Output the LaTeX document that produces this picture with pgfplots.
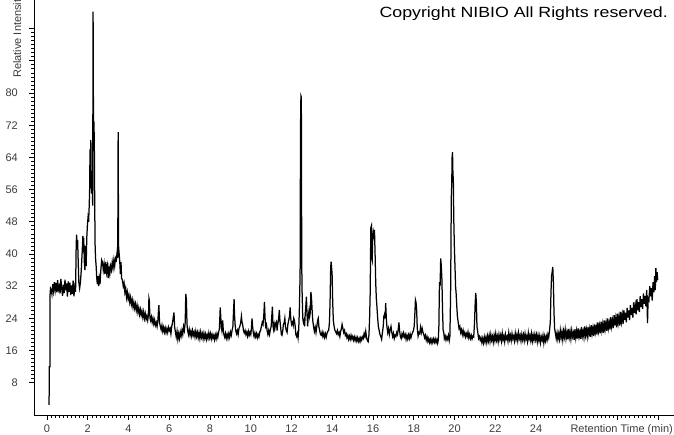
\documentclass[border=0pt]{standalone}
\usepackage{fontspec}
\setmainfont{Liberation Sans}
\usepackage{pgfplots}
\pgfplotsset{compat=1.18}
\definecolor{labelgray}{RGB}{60,60,60}
\begin{document}
\begin{tikzpicture}
\path[use as bounding box] (0,0) rectangle (674pt,434pt);
\begin{axis}[
  at={(34pt,19pt)}, anchor=south west,
  scale only axis, width=640pt, height=415pt,
  xmin=-0.64, xmax=30.77, ymin=0, ymax=103.1,
  axis x line*=bottom, axis y line*=left,
  every outer x axis line/.append style={-},
  every outer y axis line/.append style={-},
  every inner x axis line/.append style={-},
  every inner y axis line/.append style={-},
  axis line style={black, line width=0.8pt},
  tick align=outside,
  major tick length=5pt, minor tick length=2.7pt,
  every tick/.style={black, line width=0.7pt},
  xtick={0,2,...,30},
  xticklabels={0,2,4,6,8,10,12,14,16,18,20,22,24,{},{},{}},
  minor x tick num=9,
  ytick={8,16,...,96},
  yticklabels={8,16,24,32,40,48,56,64,72,80,{},{}},
  minor y tick num=7,
  /pgf/number format/assume math mode=true,
  tick label style={font=\fontsize{11}{12}\selectfont, text=labelgray},
  xticklabel style={anchor=base, inner sep=0pt, yshift=-12pt},
  yticklabel style={anchor=east, inner sep=0pt, xshift=-11pt},
  clip mode=individual,
]
\addplot[black, line width=1.25pt] coordinates {
(0.10,2.5) (0.11,12) (0.14,12) (0.15,30) (0.17,31.5)
(0.20,31.2) (0.24,30.0) (0.28,32.5) (0.32,30.8) (0.36,33.0) (0.40,31.0) (0.44,32.8) (0.48,30.5) (0.52,33.5) (0.56,31.2)
(0.60,32.0) (0.64,30.2) (0.68,33.8) (0.72,31.5) (0.76,29.6) (0.80,32.4) (0.84,30.3) (0.88,33.6) (0.92,31.0) (0.96,32.7)
(1.00,29.4) (1.04,33.2) (1.08,30.6) (1.12,32.9) (1.16,29.8) (1.20,32.2) (1.24,30.1) (1.28,33.4) (1.32,29.5) (1.36,31.8)
(1.40,30.6) (1.43,42) (1.45,44.8) (1.48,41) (1.50,43.5) (1.53,38) (1.56,33) (1.60,31.5) (1.64,33) (1.68,36) (1.72,40)
(1.76,44.5) (1.78,40.5) (1.80,44) (1.83,38) (1.86,36) (1.89,42) (1.92,37) (1.95,44) (1.98,47) (2.01,49) (2.04,48)
(2.07,52) (2.09,56) (2.11,66) (2.13,60) (2.15,68.3) (2.17,57) (2.19,55) (2.21,58) (2.24,52) (2.26,100.2) (2.28,70)
(2.30,72.9) (2.32,68) (2.34,52) (2.36,42) (2.38,39) (2.41,37) (2.44,34) (2.47,32.5) (2.50,34.5) (2.53,32) (2.56,34)
(2.60,32.5) (2.64,36) (2.68,38.5) (2.72,38) (2.76,36) (2.80,37.5) (2.84,35) (2.88,38) (2.92,35.5) (2.96,37) (3.00,34)
(3.04,36.5) (3.08,35) (3.12,37) (3.16,36) (3.20,38) (3.24,36.5) (3.28,38.5) (3.32,37) (3.36,39) (3.40,38.5) (3.44,40.5)
(3.47,39) (3.49,70.3) (3.51,42) (3.54,40) (3.57,38) (3.60,35) (3.63,38) (3.66,34) (3.70,33.5) (3.74,32) (3.78,32.8)
(3.82,30.5) (3.86,31.5) (3.90,29.2) (3.94,30.5) (3.98,28.8) (4.02,29.8) (4.06,28.0) (4.10,29.2) (4.14,27.5) (4.18,28.6)
(4.22,26.8) (4.26,28.0) (4.30,26.5) (4.34,27.6) (4.38,26.0) (4.42,27.2) (4.46,25.5) (4.50,26.6) (4.54,25.0) (4.58,26.2)
(4.62,24.8) (4.66,25.8) (4.70,24.3) (4.74,25.6) (4.78,24.0) (4.82,25.2) (4.86,23.8) (4.90,24.6) (4.94,23.5) (4.98,25.0)
(5.00,29.0) (5.02,28.5) (5.05,24.2) (5.08,23.5) (5.12,24.4) (5.16,23.0) (5.20,24.0) (5.24,22.6) (5.28,23.6) (5.32,22.3)
(5.36,23.0) (5.40,22.0) (5.44,23.5) (5.47,26.0) (5.49,27.3) (5.52,23.0) (5.56,22.0) (5.60,21.2) (5.64,22.3) (5.68,20.8)
(5.72,21.8) (5.76,20.6) (5.80,21.6) (5.84,20.4) (5.88,21.4) (5.92,20.5) (5.96,21.8) (6.00,21.0) (6.04,21.5) (6.08,20.2)
(6.12,22.0) (6.16,23.0) (6.20,24.5) (6.23,25.5) (6.26,22.0) (6.30,20.6) (6.34,19.4) (6.38,20.8) (6.42,18.8) (6.46,20.2)
(6.50,19.0) (6.54,20.6) (6.58,19.6) (6.62,21.0) (6.66,20.0) (6.70,22.0) (6.74,21.0) (6.78,23.0) (6.81,30.1) (6.84,28.5)
(6.87,22.5) (6.90,21.0) (6.94,20.0) (6.98,21.2) (7.02,19.8) (7.06,20.8) (7.10,19.6) (7.14,21.0) (7.18,19.8) (7.22,20.6)
(7.26,19.4) (7.30,20.8) (7.34,19.5) (7.38,20.5) (7.42,19.2) (7.46,20.4) (7.50,19.0) (7.54,20.6) (7.58,19.3) (7.62,20.2)
(7.66,18.9) (7.70,20.3) (7.74,19.1) (7.78,20.1) (7.82,18.8) (7.86,19.9) (7.90,19.0) (7.94,20.4) (7.98,19.2) (8.02,20.2)
(8.06,18.9) (8.10,20.0) (8.14,19.1) (8.18,19.8) (8.22,18.7) (8.26,19.9) (8.30,19.0) (8.34,20.2) (8.38,19.3) (8.42,20.5)
(8.46,21.5) (8.50,26.7) (8.52,25.0) (8.55,22.0) (8.58,21.0) (8.62,23.5) (8.65,21.0) (8.68,20.0) (8.72,19.3) (8.76,20.3)
(8.80,19.1) (8.84,20.0) (8.88,19.0) (8.92,20.2) (8.96,19.3) (9.00,20.6) (9.04,19.8) (9.08,21.0) (9.12,22.0) (9.15,25.5)
(9.18,28.8) (9.20,25.0) (9.23,22.5) (9.26,21.0) (9.30,20.2) (9.34,21.0) (9.38,20.0) (9.42,21.5) (9.46,22.0) (9.50,22.8)
(9.54,24.5) (9.57,23.0) (9.60,22.5) (9.64,21.0) (9.68,20.4) (9.72,21.0) (9.76,20.0) (9.80,20.6) (9.84,19.6) (9.88,20.8)
(9.92,19.8) (9.96,20.6) (10.00,20.0) (10.03,21.5) (10.06,24.0) (10.09,22.0) (10.12,20.5) (10.16,19.5) (10.20,20.4)
(10.24,19.4) (10.28,20.2) (10.32,19.2) (10.36,20.0) (10.40,19.4) (10.44,20.6) (10.48,21.0) (10.52,22.0) (10.56,23.0)
(10.60,22.5) (10.64,25.0) (10.67,28.1) (10.70,24.0) (10.73,22.0) (10.77,22.5) (10.80,21.0) (10.84,20.0) (10.88,21.0)
(10.92,20.0) (10.96,21.2) (11.00,22.0) (11.03,24.5) (11.06,26.9) (11.09,22.0) (11.12,21.2) (11.15,22.5) (11.18,21.5)
(11.22,22.8) (11.26,23.2) (11.29,21.0) (11.32,22.5) (11.36,23.5) (11.40,26.1) (11.43,23.5) (11.47,21.5) (11.50,20.0)
(11.53,19.8) (11.57,21.0) (11.60,22.5) (11.64,23.0) (11.67,24.0) (11.70,22.0) (11.74,21.0) (11.78,20.5) (11.82,22.5)
(11.86,23.5) (11.90,24.5) (11.93,26.7) (11.96,24.0) (12.00,22.5) (12.04,23.0) (12.08,22.2) (12.11,24.0) (12.14,23.5)
(12.18,22.0) (12.21,20.0) (12.25,19.5) (12.29,20.3) (12.32,19.2) (12.35,21.0) (12.38,25.5) (12.42,35.0) (12.44,71.5)
(12.46,79.3) (12.48,79.0) (12.50,37.5) (12.52,30.0) (12.55,24.0) (12.58,23.0) (12.61,23.5) (12.64,22.0) (12.67,25.0)
(12.70,27.0) (12.73,29.4) (12.76,25.0) (12.79,22.0) (12.82,24.5) (12.86,26.0) (12.89,24.5) (12.92,25.5) (12.95,30.6)
(12.98,29.0) (13.01,26.0) (13.04,23.5) (13.08,22.0) (13.12,20.8) (13.16,21.8) (13.20,20.5) (13.24,22.0) (13.28,23.5)
(13.31,24.0) (13.34,22.0) (13.38,21.0) (13.42,20.0) (13.46,19.8) (13.50,20.6) (13.54,19.5) (13.58,20.3) (13.62,19.3)
(13.66,20.2) (13.70,19.3) (13.74,20.3) (13.78,20.8) (13.82,21.0) (13.86,23.0) (13.89,28.0) (13.92,36.5) (13.94,38.1)
(13.96,37.0) (13.99,35.0) (14.02,28.0) (14.05,23.5) (14.09,22.0) (14.13,21.0) (14.17,20.6) (14.21,20.2) (14.25,21.0)
(14.29,20.0) (14.33,20.5) (14.37,19.5) (14.41,20.8) (14.45,21.5) (14.48,22.5) (14.52,21.5) (14.56,20.5) (14.60,21.0)
(14.64,19.8) (14.68,20.2) (14.72,19.2) (14.76,19.8) (14.80,18.8) (14.84,19.6) (14.88,18.8) (14.92,19.8) (14.96,18.9)
(15.00,19.5) (15.04,18.6) (15.08,19.4) (15.12,18.5) (15.16,19.3) (15.20,18.4) (15.24,19.2) (15.28,18.3) (15.32,19.0)
(15.36,18.2) (15.40,19.2) (15.44,18.6) (15.48,19.4) (15.52,19.0) (15.56,20.2) (15.60,19.5) (15.64,20.8) (15.68,19.2)
(15.72,18.5) (15.76,18.2) (15.80,20.0) (15.83,24.0) (15.86,30.5) (15.89,46.5) (15.92,47.0) (15.94,39.0) (15.96,38.5)
(15.98,44.0) (16.01,45.5) (16.04,44.5) (16.07,46.0) (16.10,40.0) (16.13,33.0) (16.16,29.0) (16.19,27.0) (16.22,24.5)
(16.26,22.0) (16.30,21.0) (16.34,20.0) (16.38,19.5) (16.42,18.8) (16.46,20.5) (16.50,22.0) (16.53,24.5) (16.56,25.0)
(16.59,24.0) (16.62,27.8) (16.65,24.0) (16.68,22.0) (16.72,20.5) (16.76,21.5) (16.80,20.0) (16.84,21.2) (16.88,22.0)
(16.92,20.5) (16.96,19.5) (17.00,20.3) (17.04,19.0) (17.08,19.8) (17.12,19.5) (17.16,20.5) (17.20,20.0) (17.24,21.5)
(17.27,23.0) (17.30,21.0) (17.34,19.5) (17.38,19.0) (17.42,20.2) (17.46,19.5) (17.50,20.4) (17.54,19.4) (17.58,20.0)
(17.62,18.8) (17.66,19.8) (17.70,18.9) (17.74,19.9) (17.78,19.0) (17.82,20.1) (17.86,19.2) (17.90,20.0) (17.94,20.5)
(17.98,21.0) (18.02,22.0) (18.05,25.0) (18.08,28.6) (18.11,28.0) (18.14,26.0) (18.17,21.5) (18.21,19.6) (18.25,20.5)
(18.29,20.2) (18.33,21.8) (18.37,20.5) (18.41,21.5) (18.45,20.5) (18.49,20.0) (18.53,19.2) (18.57,19.8) (18.61,18.6)
(18.65,19.4) (18.69,18.3) (18.73,19.0) (18.77,18.0) (18.81,18.8) (18.85,17.9) (18.89,18.8) (18.93,18.0) (18.97,18.9)
(19.01,18.1) (19.05,18.9) (19.09,18.0) (19.13,18.7) (19.17,17.8) (19.20,18.5) (19.23,22.0) (19.26,33.0) (19.29,32.0)
(19.32,38.9) (19.35,37.0) (19.38,33.5) (19.41,26.0) (19.44,21.0) (19.47,20.5) (19.50,19.0) (19.54,19.6) (19.58,18.6)
(19.62,19.4) (19.66,18.8) (19.70,19.8) (19.74,18.5) (19.77,19.5) (19.79,25.0) (19.81,32.0) (19.84,54.0) (19.86,57.0)
(19.88,64.0) (19.90,65.3) (19.92,60.0) (19.94,58.5) (19.96,49.0) (19.99,42.0) (20.02,37.0) (20.05,32.0) (20.08,30.0)
(20.11,27.0) (20.14,24.5) (20.18,23.0) (20.22,21.5) (20.26,22.0) (20.30,20.5) (20.34,21.2) (20.38,20.0) (20.42,21.0)
(20.46,19.8) (20.50,20.5) (20.54,19.4) (20.58,20.2) (20.62,19.5) (20.66,20.6) (20.70,19.2) (20.74,20.0) (20.78,19.0)
(20.82,19.8) (20.86,18.9) (20.90,19.6) (20.94,19.4) (20.98,23.0) (21.01,27.5) (21.04,30.3) (21.07,28.0) (21.10,22.0)
(21.14,20.5) (21.18,19.0) (21.22,19.5) (21.26,18.6) (21.30,19.2) (21.34,18.0) (21.38,19.0) (21.42,17.9) (21.46,19.4)
(21.50,18.2) (21.54,19.3) (21.58,18.0) (21.62,19.6) (21.66,18.4) (21.70,19.8) (21.74,18.3) (21.78,20.0) (21.82,18.6)
(21.86,19.5) (21.90,18.1) (21.94,19.8) (21.98,18.5) (22.02,20.2) (22.06,18.6) (22.10,19.6) (22.14,18.2) (22.18,20.0)
(22.22,18.8) (22.26,19.8) (22.30,18.4) (22.34,20.3) (22.38,18.7) (22.42,19.6) (22.46,18.2) (22.50,20.0) (22.54,18.9)
(22.58,19.5) (22.62,18.3) (22.66,20.4) (22.70,18.8) (22.74,19.8) (22.78,18.5) (22.82,20.2) (22.86,18.9) (22.90,19.6)
(22.94,18.4) (22.98,20.3) (23.02,18.8) (23.06,19.9) (23.10,18.5) (23.14,20.4) (23.18,19.0) (23.22,19.8) (23.26,18.4)
(23.30,20.0) (23.34,18.7) (23.38,19.9) (23.42,18.5) (23.46,20.2) (23.50,18.8) (23.54,19.6) (23.58,18.3) (23.62,20.4)
(23.66,18.9) (23.70,19.8) (23.74,18.5) (23.78,20.2) (23.82,18.4) (23.86,19.8) (23.90,18.6) (23.94,20.0) (23.98,18.7)
(24.02,19.9) (24.06,18.2) (24.10,19.8) (24.14,18.5) (24.18,19.7) (24.22,18.0) (24.26,19.4) (24.30,18.6) (24.34,19.8)
(24.38,17.9) (24.42,19.5) (24.46,18.4) (24.50,19.6) (24.54,18.6) (24.58,20.0) (24.62,19.2) (24.66,21.0) (24.70,23.0)
(24.73,30.0) (24.76,34.5) (24.79,35.5) (24.82,36.8) (24.85,33.0) (24.88,25.5) (24.91,21.5) (24.95,20.3) (24.99,19.0)
(25.03,20.4) (25.07,18.8) (25.11,20.2) (25.15,18.9) (25.19,21.0) (25.23,19.2) (25.27,20.6) (25.31,18.7) (25.35,20.8)
(25.39,19.4) (25.43,21.2) (25.47,19.0) (25.51,20.5) (25.55,18.8) (25.59,21.4) (25.63,19.3) (25.67,20.7) (25.71,18.9)
(25.75,21.0) (25.79,19.5) (25.83,20.4) (25.87,18.6) (25.91,21.3) (25.95,19.2) (25.99,20.9) (26.03,19.0) (26.07,21.5)
(26.11,19.4) (26.15,20.6) (26.19,18.9) (26.23,21.8) (26.27,19.6) (26.31,20.8) (26.35,19.3) (26.39,22.0) (26.43,19.8)
(26.47,21.2) (26.51,19.5) (26.55,21.9) (26.59,20.0) (26.63,21.4) (26.67,19.4) (26.71,22.3) (26.75,20.2) (26.79,21.6)
(26.83,19.6) (26.87,22.5) (26.91,20.5) (26.95,21.8) (26.99,20.0) (27.03,23.0) (27.07,20.8) (27.11,22.2) (27.15,20.3)
(27.19,23.2) (27.23,21.0) (27.27,22.6) (27.31,20.4) (27.35,23.5) (27.39,21.3) (27.43,22.8) (27.47,20.9) (27.51,24.0)
(27.55,21.6) (27.59,23.0) (27.63,21.2) (27.67,24.3) (27.71,22.0) (27.75,23.5) (27.79,21.6) (27.83,24.8) (27.87,22.3)
(27.91,24.0) (27.95,21.8) (27.99,25.2) (28.03,22.8) (28.07,24.4) (28.11,22.2) (28.15,25.6) (28.19,23.2) (28.23,24.9)
(28.27,22.6) (28.31,26.0) (28.35,23.6) (28.39,25.4) (28.43,23.0) (28.47,26.6) (28.51,24.2) (28.55,26.0) (28.59,23.6)
(28.63,27.3) (28.67,24.8) (28.71,26.6) (28.75,24.2) (28.79,28.0) (28.83,25.4) (28.87,27.2) (28.91,25.0) (28.95,28.8)
(28.99,26.0) (29.03,28.0) (29.07,25.6) (29.11,29.5) (29.15,26.8) (29.19,28.8) (29.23,26.4) (29.27,30.2) (29.31,27.6)
(29.35,29.6) (29.39,27.0) (29.43,31.0) (29.47,22.8) (29.50,29.0) (29.54,28.5) (29.58,32.0) (29.62,29.5) (29.66,31.5)
(29.70,28.4) (29.74,33.0) (29.78,30.5) (29.82,34.5) (29.85,31.0) (29.88,36.5) (29.91,33.0) (29.94,35.5) (29.97,33.5)
};
\node[rotate=90, anchor=base west, inner sep=0pt, text=labelgray, font=\fontsize{11}{12}\selectfont]
  at ([xshift=-13pt, yshift=337pt]rel axis cs:0,0) {Relative Intensity};
\node[anchor=base east, inner sep=0pt, text=labelgray, font=\fontsize{11}{12}\selectfont]
  at ([xshift=-1pt, yshift=-17pt]rel axis cs:1,0) {Retention Time (min)};
\node[anchor=base east, inner sep=0pt, font=\fontsize{14.8}{17}\selectfont]
  at ([xshift=-6pt, yshift=-17.5pt]rel axis cs:1,1) {\scalebox{1.2}[1]{Copyright NIBIO All Rights reserved.}};
\end{axis}
\end{tikzpicture}
\end{document}
